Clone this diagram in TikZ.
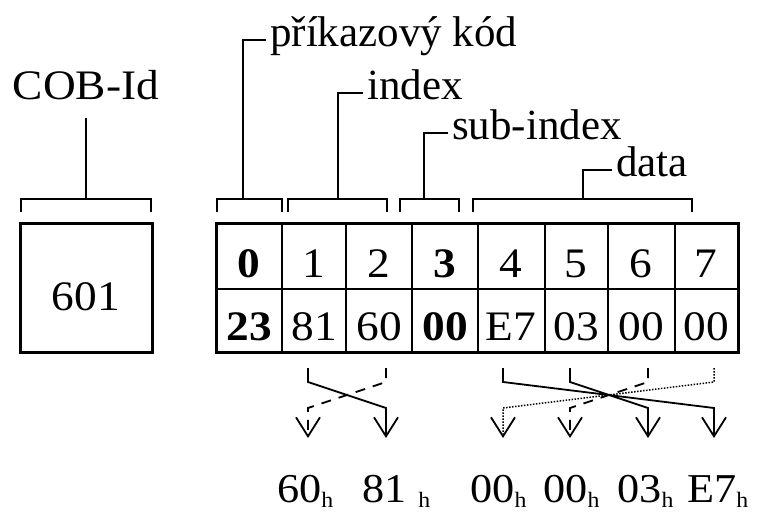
\documentclass[tikz,border=0pt]{standalone}
\usepackage{fontspec}
\setmainfont{Liberation Serif}
\usetikzlibrary{arrows.meta}

\tikzset{
  frame/.style={line width=3pt},
  grid/.style={line width=2.5pt},
  brace/.style={line width=1.5pt},
  wire/.style={line width=1.8pt,-{Straight Barb[length=19pt,width=24pt,line width=1.8pt]}},
  dashwire/.style={wire,dash pattern=on 10pt off 8pt},
  dotwire/.style={wire,line width=1.5pt,dash pattern=on 1.5pt off 1.5pt},
  lbl/.style={anchor=base west,inner sep=0pt,font=\fontsize{43}{50}\selectfont},
  num/.style={anchor=base,inner sep=0pt,xscale=1.08,font=\fontsize{42}{50}\selectfont},
  hex/.style={anchor=base west,inner sep=0pt,xscale=1.08,font=\fontsize{41}{48}\selectfont},
}
\newcommand\hexh[1]{#1\raisebox{-5pt}{\fontsize{22}{22}\selectfont h}}

\begin{document}
\begin{tikzpicture}[x=1pt,y=1pt,yscale=-1]
\useasboundingbox (0,0) rectangle (758,513);

%COB-Id box
\draw[frame] (20,224) rectangle (152,352);
\node[num] (cobid) at (86,310) {601};
\node[num] (cobname) at (86,100) {COB-Id};
\draw[brace] (21,212) |- (151,199) -- (151,212);
\draw[brace] (86,199) -- (86,118);

%data bytes
\draw[grid] (216,289) -- (738,289);
\foreach \x in {282,346,412,478,545,608,675}
  \draw[grid] (\x,224) -- (\x,352);
\draw[frame] (216,224) rectangle (738,352);
\foreach \xc/\hd/\vl [count=\i from 0] in {249/\textbf{0}/\textbf{23},314/1/81,379/2/60,445/\textbf{3}/\textbf{00},
    511/4/E7,576/5/03,641/6/00,706/7/00}{
  \node[num] (hd\i) at (\xc,277) {\hd};
  \node[num] (vl\i) at (\xc,340) {\vl};
}

%braces over the fields
\foreach \a/\b/\m/\t/\e/\n/\txt in {217/282/243/40/266/cmd/{příkazový kód},
    288/387/338/93/363/idx/index,400/459/424/133/448/subidx/sub-index,473/692/583/170/612/data/data}{
  \draw[brace] (\a,212) |- (\b,199) -- (\b,212);
  \draw[brace] (\m,199) |- (\e,\t);
  \node[lbl] (\n) at (\e+4,\t+7) {\txt};
}

%byte order swap
\draw[wire] (308,368) -- (308,382) -- (386,408) -- (386,438);
\draw[dashwire] (386,368) -- (386,382) -- (308,408) -- (308,438);
\draw[wire] (503,368) -- (503,382) -- (714,408) -- (714,438);
\draw[wire] (570,368) -- (570,382) -- (648,408) -- (648,438);
\draw[dashwire] (648,368) -- (648,382) -- (570,408) -- (570,438);
\draw[dotwire] (714,368) -- (714,382) -- (503,408) -- (503,438);

%resulting values
\node[hex] (h60) at (277,502) {\hexh{60}};
\node[hex] (h81) at (362,502) {\hexh{81\hspace{11pt}}};
\node[hex] (h00a) at (470,502) {\hexh{00}};
\node[hex] (h00b) at (543,502) {\hexh{00}};
\node[hex] (h03) at (617,502) {\hexh{03}};
\node[hex] (hE7) at (687,502) {\hexh{E7}};

\end{tikzpicture}
\end{document}
